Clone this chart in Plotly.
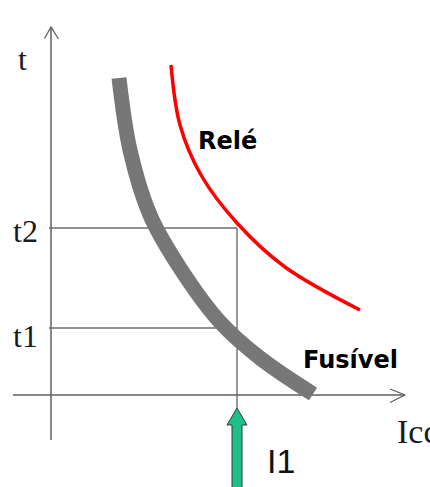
import plotly.graph_objects as go

# ---- data (arbitrary units: Icc horizontally, t vertically) ----
fusivel_icc = [6.8, 7.9, 9.9, 12.9, 16.9, 20.9, 26.2]
fusivel_t = [31.7, 24.5, 18.0, 12.7, 7.3, 3.7, 0.1]

rele_icc = [12.0, 12.9, 15.0, 18.6, 23.4, 30.9]
rele_t = [33.0, 27.0, 22.0, 17.2, 12.8, 8.5]

I1 = 18.6
t1 = 6.7
t2 = 16.7

y_axis_top = 36.8
y_axis_bottom = -4.5
x_axis_left = -3.8
x_axis_right = 35.4

X_RANGE = [-5.1, 37.9]
Y_RANGE = [-9.2, 39.5]

AXIS_COLOR = "#5f5f5f"
GRID_COLOR = "#6e6e6e"

fig = go.Figure()

# axes
fig.add_trace(go.Scatter(x=[0, 0], y=[y_axis_bottom, y_axis_top], mode="lines",
                         line=dict(color=AXIS_COLOR, width=1.5), hoverinfo="skip"))
fig.add_trace(go.Scatter(x=[x_axis_left, x_axis_right], y=[0, 0], mode="lines",
                         line=dict(color=AXIS_COLOR, width=1.5), hoverinfo="skip"))
# arrow heads (open chevrons)
fig.add_trace(go.Scatter(x=[-0.65, 0, 0.75], y=[y_axis_top - 1.15, y_axis_top, y_axis_top - 1.2],
                         mode="lines", line=dict(color=AXIS_COLOR, width=1.3), hoverinfo="skip"))
fig.add_trace(go.Scatter(x=[x_axis_right - 1.5, x_axis_right, x_axis_right - 1.5], y=[0.6, 0, -0.75],
                         mode="lines", line=dict(color=AXIS_COLOR, width=1.3), hoverinfo="skip"))

# t1 / t2 reference lines and I1 vertical
fig.add_trace(go.Scatter(x=[-0.2, I1], y=[t2, t2], mode="lines",
                         line=dict(color=GRID_COLOR, width=1.6), hoverinfo="skip"))
fig.add_trace(go.Scatter(x=[-0.2, I1], y=[t1, t1], mode="lines",
                         line=dict(color=GRID_COLOR, width=1.6), hoverinfo="skip"))
fig.add_trace(go.Scatter(x=[I1, I1], y=[t2, -1.3], mode="lines",
                         line=dict(color=GRID_COLOR, width=1.4), hoverinfo="skip"))

# curves
fig.add_trace(go.Scatter(x=fusivel_icc, y=fusivel_t, mode="lines",
                         line=dict(color="#777777", width=15, shape="spline", smoothing=1.0),
                         hoverinfo="skip"))
fig.add_trace(go.Scatter(x=rele_icc, y=rele_t, mode="lines",
                         line=dict(color="#ff0000", width=3.5, shape="spline", smoothing=1.0),
                         hoverinfo="skip"))

# green arrow at I1
tip = -1.3
head_base = -3.0
bottom = -9.6
fig.add_trace(go.Scatter(
    x=[I1 - 0.5, I1 - 0.5, I1 - 1.0, I1, I1 + 1.0, I1 + 0.5, I1 + 0.5, I1 - 0.5],
    y=[bottom, head_base, head_base, tip, head_base, head_base, bottom, bottom],
    mode="lines", fill="toself", fillcolor="#1fbf8b",
    line=dict(color="#2f3f38", width=1), hoverinfo="skip"))

serif = "Liberation Serif, Times New Roman, serif"
ann = [
    dict(x=-2.9, y=33.6, text="t", font=dict(family=serif, size=32, color="#1a1a22")),
    dict(x=-2.6, y=16.4, text="t2", font=dict(family=serif, size=32, color="#1a1a22")),
    dict(x=-2.6, y=5.9, text="t1", font=dict(family=serif, size=32, color="#1a1a22")),
    dict(x=34.4, y=-3.6, text="Icc", xanchor="left", font=dict(family=serif, size=34, color="#1a1a22")),
    dict(x=23.0, y=-6.6, text="I1", font=dict(family="Liberation Sans, Arial, sans-serif", size=34, color="#111111")),
    dict(x=17.6, y=25.4, text="<b>Relé</b>", font=dict(family="DejaVu Sans", size=24, color="#000000")),
    dict(x=29.9, y=3.5, text="<b>Fusível</b>", font=dict(family="DejaVu Sans", size=24, color="#000000")),
]
for a in ann:
    a.setdefault("xanchor", "center")
    a.update(xref="x", yref="y", showarrow=False, yanchor="middle")
    fig.add_annotation(**a)

fig.update_layout(
    width=430, height=487,
    margin=dict(l=0, r=0, t=0, b=0),
    paper_bgcolor="white", plot_bgcolor="white",
    showlegend=False,
    xaxis=dict(range=X_RANGE, visible=False, fixedrange=True),
    yaxis=dict(range=Y_RANGE, visible=False, fixedrange=True),
)

fig.write_html("out.html", config={"displayModeBar": False},
               post_script="document.body.style.margin='0';")
